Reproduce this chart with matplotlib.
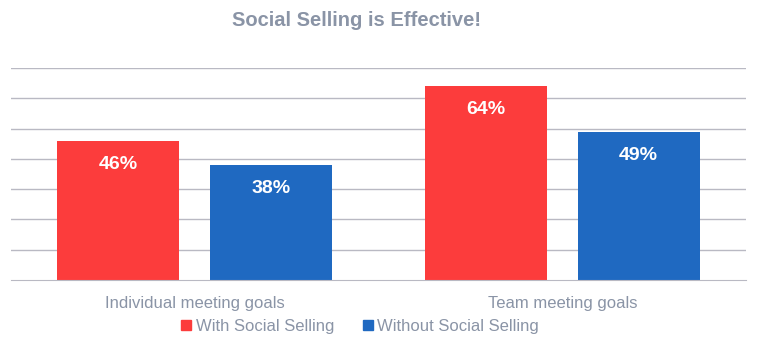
import numpy as np
import matplotlib.pyplot as plt
from matplotlib.lines import Line2D

plt.rcParams['font.family'] = ['Liberation Sans', 'DejaVu Sans']

categories = ['Individual meeting goals', 'Team meeting goals']
series_names = ['With Social Selling', 'Without Social Selling']
with_social = [46, 64]
without_social = [38, 49]
colors = ['#FC3C3C', '#1F69C1']
text_gray = '#8A94A6'
grid_gray = '#B9B9C3'

fig = plt.figure(figsize=(7.6, 3.45), dpi=100)
ax = fig.add_axes([11 / 760, 1 - 280 / 345, 735 / 760, 212 / 345])

x = np.arange(len(categories))
width = 0.332
offset = 0.208

for vals, off, c in [(with_social, -offset, colors[0]), (without_social, offset, colors[1])]:
    bars = ax.bar(x + off, vals, width, color=c, zorder=3)
    for b, v in zip(bars, vals):
        ax.annotate(f'{v}%', (b.get_x() + b.get_width() / 2, v),
                    xytext=(0, -17), textcoords='offset points',
                    ha='center', va='center', color='white',
                    fontsize=14, fontweight='bold', zorder=4)

ax.set_xlim(-0.5, 1.5)
ax.set_ylim(0, 70)
ax.set_yticks(np.arange(10, 71, 10))
ax.yaxis.grid(True, color=grid_gray, linewidth=1, zorder=0)
ax.tick_params(axis='y', left=False, labelleft=False)
ax.tick_params(axis='x', bottom=False, colors=text_gray, labelsize=12, pad=8)
ax.set_xticks(x)
ax.set_xticklabels(categories)
for s in ['top', 'left', 'right']:
    ax.spines[s].set_visible(False)
ax.spines['bottom'].set_color(grid_gray)
ax.spines['bottom'].set_zorder(5)

fig.text(357 / 760, 1 - 20 / 345, 'Social Selling is Effective!', ha='center', va='center',
         color=text_gray, fontsize=14.5, fontweight='bold')

handles = [Line2D([], [], marker='s', linestyle='none', markersize=6.5,
                  markerfacecolor=c, markeredgecolor=c) for c in colors]
leg = fig.legend(handles, series_names, loc='center', bbox_to_anchor=(359 / 760, 1 - 326 / 345),
                 ncol=2, frameon=False, fontsize=12, handletextpad=0.1,
                 columnspacing=1.6, handlelength=0.9, borderpad=0, borderaxespad=0)
for t in leg.get_texts():
    t.set_color(text_gray)

fig.savefig('out.png', dpi=100)
